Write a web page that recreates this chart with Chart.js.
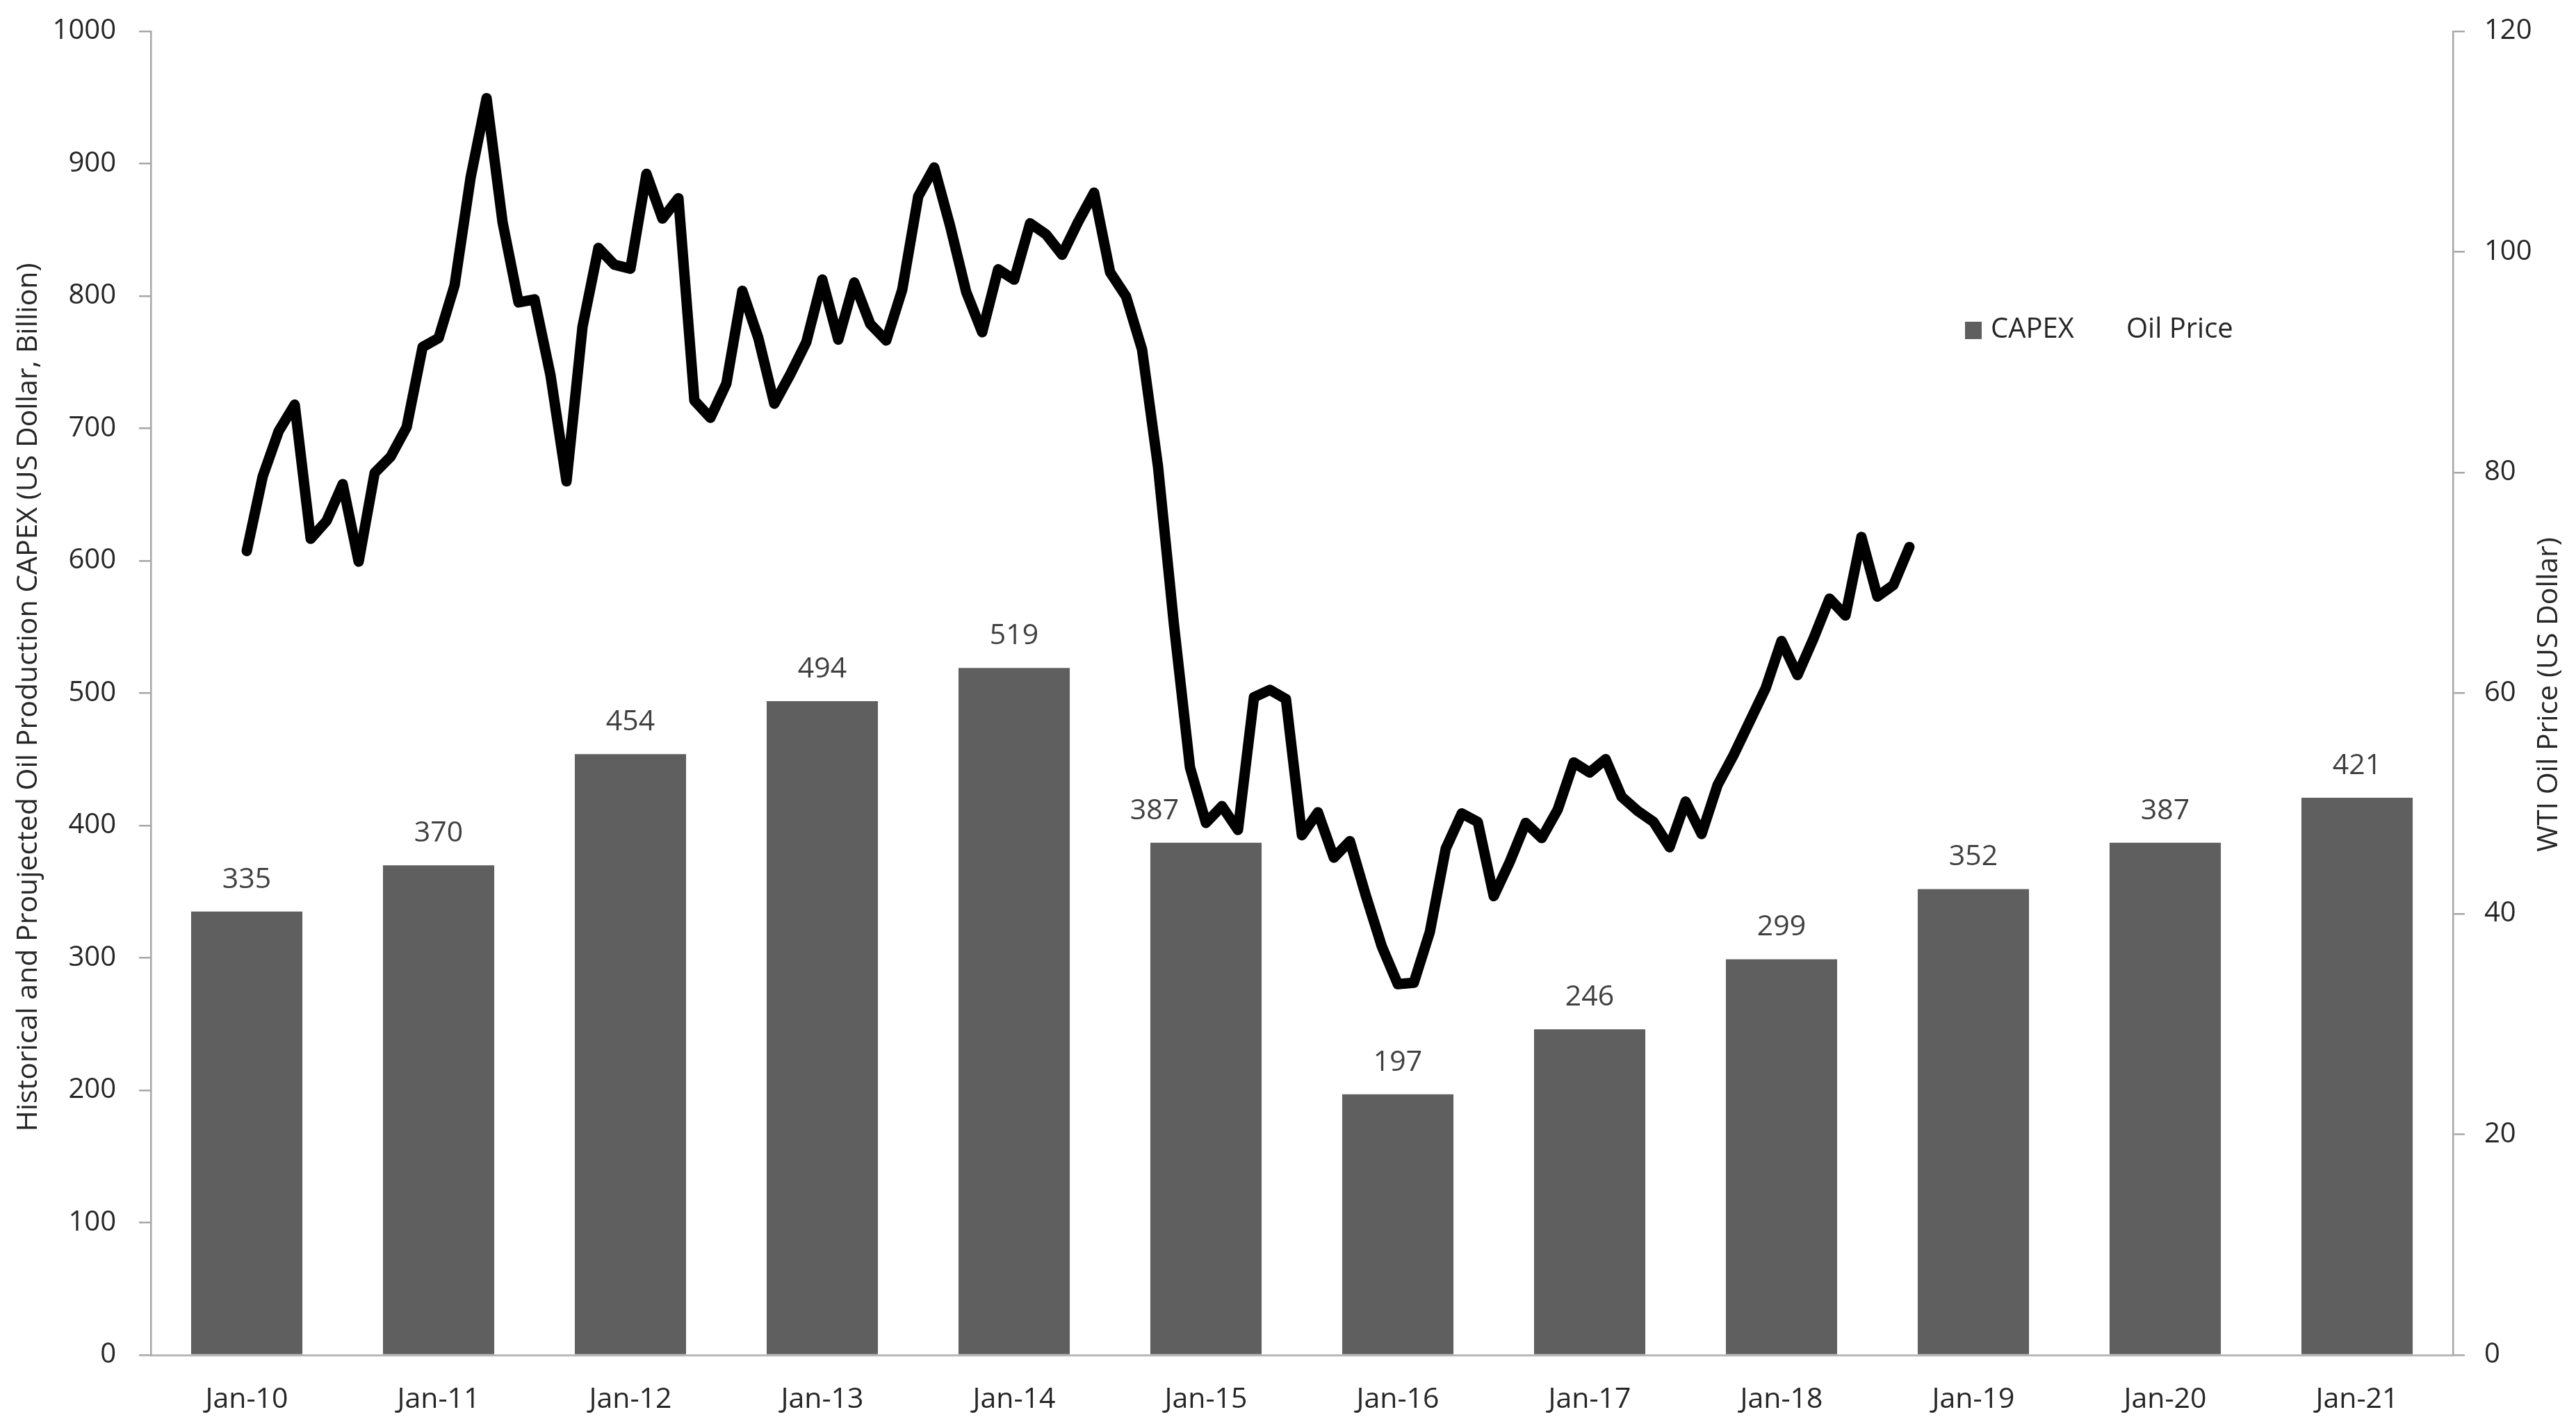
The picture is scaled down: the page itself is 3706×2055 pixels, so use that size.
<!DOCTYPE html>
<html>
<head>
<meta charset="utf-8">
<script src="https://cdn.jsdelivr.net/npm/chart.js@4/dist/chart.umd.min.js"></script>
<style>
  html, body { margin: 0; padding: 0; background: #ffffff; }
  #wrap { width: 3706px; height: 2055px; position: relative; }
</style>
</head>
<body>
<div id="wrap"><canvas id="c" width="3706" height="2055"></canvas></div>
<script>
// ---- data ----
const categories = ['Jan-10','Jan-11','Jan-12','Jan-13','Jan-14','Jan-15','Jan-16','Jan-17','Jan-18','Jan-19','Jan-20','Jan-21'];
const capex = [335, 370, 454, 494, 519, 387, 197, 246, 299, 352, 387, 421];

// WTI oil price, monthly, Jan-10 .. Sep-18
const oilPrice2010 = [72.89, 79.66, 83.76, 86.15, 74.00, 75.63, 78.95, 71.92, 79.97, 81.43, 84.11, 91.38];
const oilPrice2011 = [92.19, 96.97, 106.72, 113.93, 102.70, 95.42, 95.70, 88.81, 79.20, 93.19, 100.36, 98.83];
const oilPrice2012 = [98.48, 107.07, 103.02, 104.87, 86.53, 84.96, 88.06, 96.47, 92.19, 86.24, 88.91, 91.82];
const oilPrice2013 = [97.49, 92.05, 97.23, 93.46, 91.97, 96.56, 105.03, 107.65, 102.33, 96.38, 92.72, 98.42];
const oilPrice2014 = [97.49, 102.59, 101.58, 99.74, 102.71, 105.37, 98.17, 95.96, 91.16, 80.54, 66.15, 53.27];
const oilPrice2015 = [48.24, 49.76, 47.60, 59.63, 60.30, 59.47, 47.12, 49.20, 45.09, 46.59, 41.65, 37.04];
const oilPrice2016 = [33.62, 33.75, 38.34, 45.92, 49.10, 48.33, 41.60, 44.70, 48.24, 46.86, 49.44, 53.72];
const oilPrice2017 = [52.81, 54.01, 50.60, 49.33, 48.32, 46.04, 50.17, 47.23, 51.67, 54.38, 57.40, 60.42];
const oilPrice2018 = [64.73, 61.64, 64.94, 68.57, 67.04, 74.15, 68.76, 69.80, 73.25];

const leftTicks = [0, 100, 200, 300, 400, 500, 600, 700, 800, 900, 1000];
const rightTicks = [0, 20, 40, 60, 80, 100, 120];

const leftTitle = 'Historical and Proujected Oil Production CAPEX (US Dollar, Billion)';
const rightTitle = 'WTI Oil Price (US Dollar)';
const capexLabel = 'CAPEX';
const oilLabel = 'Oil Price';

// ---- build ----
const oilPrice = [].concat(oilPrice2010, oilPrice2011, oilPrice2012, oilPrice2013,
  oilPrice2014, oilPrice2015, oilPrice2016, oilPrice2017, oilPrice2018);
// month i after Jan-10 sits at category position i/12
const oilPoints = oilPrice.map((v, i) => ({ x: i / 12, y: v }));

const FONT = '"Open Sans", "Liberation Sans", sans-serif';
Chart.defaults.font.family = FONT;
Chart.defaults.color = '#262626';

// value label nudges (the Jan-15 label sits left of the price line)
const labelNudgeX = { 5: -74 };

const extras = {
  id: 'extras',
  afterDatasetDraw(chart, args) {
    if (args.index !== 0) return;
    const ctx = chart.ctx;
    ctx.save();
    ctx.font = '41px ' + FONT;
    ctx.fillStyle = '#404040';
    ctx.textAlign = 'center';
    ctx.textBaseline = 'alphabetic';
    args.meta.data.forEach((bar, i) => {
      const dx = labelNudgeX[i] || 0;
      ctx.fillText(String(chart.data.datasets[0].data[i]), bar.x + dx, bar.y - 34);
    });
    ctx.restore();
  },
  afterDatasetsDraw(chart) {
    const ctx = chart.ctx;
    const area = chart.chartArea;
    ctx.save();
    // axis titles (both read bottom-to-top)
    const midY = (area.top + area.bottom) / 2;
    ctx.fillStyle = '#262626';
    ctx.font = '41px ' + FONT;
    ctx.textBaseline = 'middle';
    ctx.textAlign = 'center';
    ctx.save();
    ctx.translate(chart.scales.y.left + 41, midY + 6);
    ctx.rotate(-Math.PI / 2);
    ctx.fillText(leftTitle, 0, 0);
    ctx.restore();
    ctx.save();
    ctx.translate(chart.scales.y2.right - 39, midY + 2);
    ctx.rotate(-Math.PI / 2);
    ctx.fillText(rightTitle, 0, 0);
    ctx.restore();

    // legend
    const lx = area.right - 702;
    const ly = area.top + 430;
    ctx.fillStyle = '#5f5f5f';
    ctx.fillRect(lx, ly - 12, 24, 25);
    ctx.fillStyle = '#262626';
    ctx.font = '40px ' + FONT;
    ctx.textAlign = 'left';
    ctx.textBaseline = 'middle';
    ctx.fillText(chart.data.datasets[0].label, lx + 37, ly);
    ctx.fillText(chart.data.datasets[1].label, lx + 232, ly);
    ctx.restore();
  }
};

const plainTick = (v) => String(v);

new Chart(document.getElementById('c'), {
  type: 'bar',
  data: {
    labels: categories,
    datasets: [
      {
        type: 'bar',
        label: capexLabel,
        data: capex,
        backgroundColor: '#5f5f5f',
        borderWidth: 0,
        grouped: false,
        categoryPercentage: 1.0,
        barPercentage: 0.58,
        xAxisID: 'x',
        yAxisID: 'y',
        order: 1
      },
      {
        type: 'line',
        label: oilLabel,
        data: oilPoints,
        borderColor: '#000000',
        borderWidth: 15,
        pointRadius: 0,
        tension: 0,
        borderJoinStyle: 'round',
        borderCapStyle: 'round',
        fill: false,
        xAxisID: 'xm',
        yAxisID: 'y2',
        order: 0
      }
    ]
  },
  options: {
    responsive: false,
    animation: false,
    devicePixelRatio: 1,
    layout: { padding: { top: 45, left: 0, right: 0, bottom: 0 } },
    plugins: { legend: { display: false }, tooltip: { enabled: false } },
    scales: {
      x: {
        type: 'category',
        position: 'bottom',
        offset: true,
        grid: { display: false, drawTicks: false },
        border: { display: true, color: '#b8b8b8', width: 3 },
        ticks: { font: { size: 41 }, color: '#262626', padding: 40, maxRotation: 0, autoSkip: false },
        afterFit(s) { s.height = 105; s.paddingLeft = 0; s.paddingRight = 0; }
      },
      xm: {
        type: 'linear',
        display: false,
        min: -0.5,
        max: 11.5,
        offset: false
      },
      y: {
        type: 'linear',
        position: 'left',
        min: 0,
        max: 1000,
        afterBuildTicks(s) { s.ticks = leftTicks.map(v => ({ value: v })); },
        grid: { drawOnChartArea: false, drawTicks: true, tickLength: 17, color: '#a6a6a6', lineWidth: 2.5 },
        border: { display: true, color: '#a6a6a6', width: 2.5 },
        ticks: { font: { size: 40 }, color: '#262626', padding: 33, callback: plainTick },
        afterFit(s) { s.width = 217; s.paddingTop = 0; s.paddingBottom = 0; }
      },
      y2: {
        type: 'linear',
        position: 'right',
        min: 0,
        max: 120,
        afterBuildTicks(s) { s.ticks = rightTicks.map(v => ({ value: v })); },
        grid: { drawOnChartArea: false, drawTicks: true, tickLength: 17, color: '#a6a6a6', lineWidth: 2.5 },
        border: { display: true, color: '#a6a6a6', width: 2.5 },
        ticks: { font: { size: 40 }, color: '#262626', padding: 28, callback: plainTick },
        afterFit(s) { s.width = 177; s.paddingTop = 0; s.paddingBottom = 0; }
      }
    }
  },
  plugins: [extras]
});
</script>
</body>
</html>
